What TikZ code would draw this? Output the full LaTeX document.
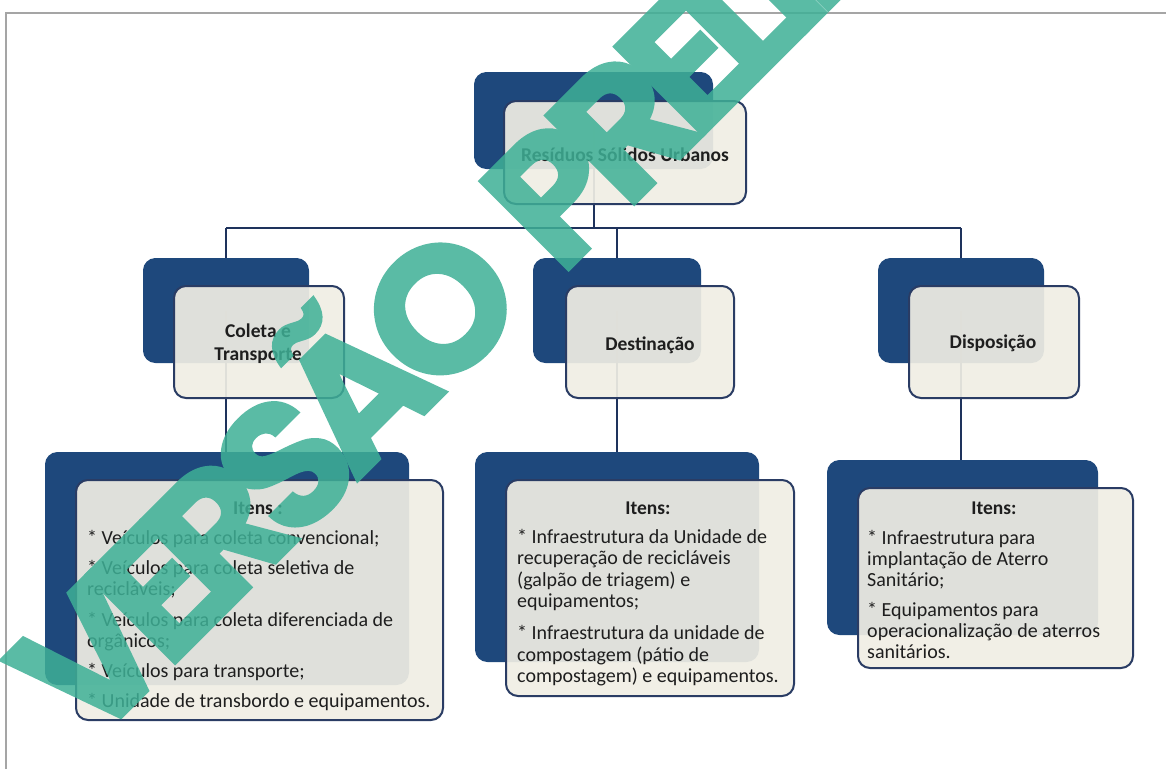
\documentclass[tikz,border=0pt]{standalone}
\usepackage{fontspec}
\setmainfont{Carlito}
\newfontfamily\wmfont[LetterSpace=-11,FakeBold=1.2]{Poppins}
\definecolor{navy}{RGB}{30,72,124}
\definecolor{bord}{RGB}{42,60,100}
\definecolor{conn}{RGB}{30,50,92}
\definecolor{cream}{RGB}{240,238,228}
\definecolor{txt}{RGB}{30,30,30}
\definecolor{wmcol}{RGB}{62,176,150}
\definecolor{frame}{RGB}{165,165,165}
\begin{document}
\begin{tikzpicture}[x=1pt,y=-1pt,
  back/.style={fill=navy, draw=navy, line width=1pt, rounded corners=12pt, inner sep=0pt, anchor=north west},
  front/.style={fill=cream, fill opacity=0.92, draw=bord, line width=2pt, rounded corners=12pt, inner sep=0pt, anchor=north west},
  conline/.style={draw=conn, line width=2pt},
  title/.style={font=\fontsize{19.5}{23}\selectfont\bfseries, text=txt, align=center, inner sep=0pt},
  items/.style={font=\fontsize{20}{21}\selectfont, text=txt, align=left, inner sep=0pt, anchor=north west},
  wm/.style={font=\wmfont\bfseries\fontsize{180}{180}\selectfont, text=wmcol, inner sep=0pt}
]
\useasboundingbox (0,0) rectangle (1166,769);
\clip (0,0) rectangle (1166,769);
\fill[white] (0,0) rectangle (1166,769);
\draw[frame, line width=1.2pt] (6,769) -- (6,13) -- (1166,13);

% back boxes
\node[back, minimum width=238pt, minimum height=96pt] (b0) at (474,72) {};
\node[back, minimum width=165pt, minimum height=104pt] (b1) at (143,258) {};
\node[back, minimum width=167pt, minimum height=104pt] (b2) at (533,258) {};
\node[back, minimum width=165pt, minimum height=104pt] (b3) at (878,258) {};
\node[back, minimum width=363pt, minimum height=232pt] (c1) at (45,452) {};
\node[back, minimum width=283pt, minimum height=209pt] (c2) at (475,452) {};
\node[back, minimum width=270pt, minimum height=174pt] (c3) at (827,460) {};

% connectors
\coordinate (bar) at (0,228);
\draw[conline] (b0.center) -- (b0.center |- bar);
\draw[conline] (b1.center |- bar) -- (b3.center |- bar);
\draw[conline] (b1.center |- bar) -- (b1.north);
\draw[conline] (b2.center |- bar) -- (b2.north);
\draw[conline] (b3.center |- bar) -- (b3.north);
\draw[conline] (b1.center) -- (b1.center |- c1.north);
\draw[conline] (b2.center) -- (b2.center |- c2.north);
\draw[conline] (b3.center) -- (b3.center |- c3.north);

% front boxes
\node[front, minimum width=242pt, minimum height=103pt] (f0) at (503,100) {};
\node[front, minimum width=170pt, minimum height=112pt] (f1) at (173,285) {};
\node[front, minimum width=168pt, minimum height=112pt] (f2) at (565,285) {};
\node[front, minimum width=170pt, minimum height=112pt] (f3) at (908,285) {};
\node[front, minimum width=367pt, minimum height=240pt] (g1) at (75,479) {};
\node[front, minimum width=288pt, minimum height=216pt] (g2) at (505,479) {};
\node[front, minimum width=275pt, minimum height=180pt] (g3) at (857,487) {};

% texts
\node[title] (t0) at (625,155) {Resíduos Sólidos Urbanos};
\node[title] (t1) at (258,344) {Coleta e\\Transporte};
\node[title] (t2) at (650,345) {Destinação};
\node[title] (t3) at (993,343) {Disposição};
\node[title] (h1) at (258,508) {Itens :};
\node[title] (h2) at (648,508) {Itens:};
\node[title] (h3) at (994,508) {Itens:};

\node[items] (i1) at (87,530) {* Veículos para coleta convencional;\\[9.5pt]
* Veículos para coleta seletiva de\\recicláveis;\\[9.5pt]
* Veículos para coleta diferenciada de\\orgânicos;\\[9.5pt]
* Veículos para transporte;\\[9pt]
* Unidade de transbordo e equipamentos.};
\node[items] (i2) at (517,529) {* Infraestrutura da Unidade de\\[0.4pt]recuperação de recicláveis\\[0.4pt](galpão de triagem) e\\[0.4pt]equipamentos;\\[11pt]
* Infraestrutura da unidade de\\[0.4pt]compostagem (pátio de\\[0.4pt]compostagem) e equipamentos.};
\node[items] (i3) at (867,530) {* Infraestrutura para\\implantação de Aterro\\Sanitário;\\[9pt]
* Equipamentos para\\operacionalização de aterros\\sanitários.};

% watermark
\begin{scope}[transparency group, opacity=0.85]
\node[wm, rotate=45, anchor=base west] (wmk) at (88,751) {VERSÃO\hspace{0.1em} PRELIMINAR};
\end{scope}
\end{tikzpicture}
\end{document}
